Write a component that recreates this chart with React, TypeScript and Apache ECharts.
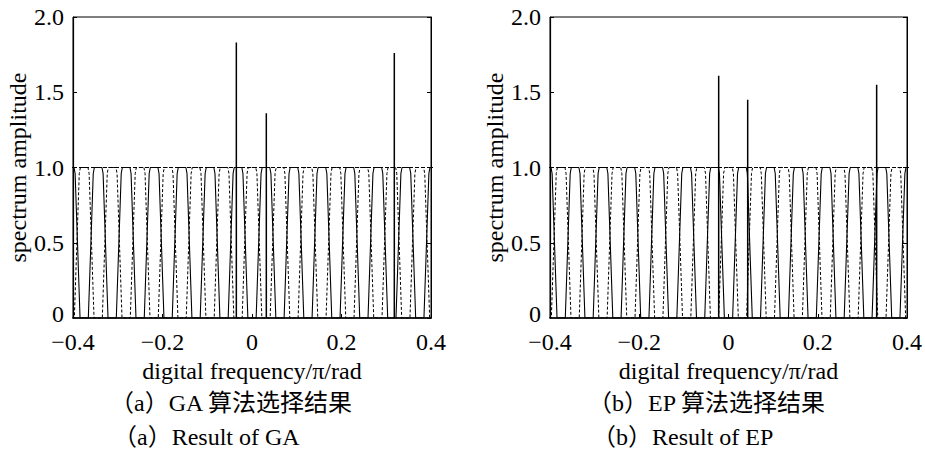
import React, { useEffect, useRef } from "react";
import * as echarts from "echarts";

// ---- data ----
const xTickStep = 0.2;
const yTickStep = 0.5;
const solidCenters = [-0.40625, -0.34375, -0.28125, -0.21875, -0.15625, -0.09375, -0.03125, 0.03125, 0.09375, 0.15625, 0.21875, 0.28125, 0.34375, 0.40625];
const dashedCenters = [-0.4375, -0.375, -0.3125, -0.25, -0.1875, -0.125, -0.0625, 0, 0.0625, 0.125, 0.1875, 0.25, 0.3125, 0.375, 0.4375];
const bandOffsets = [-0.022, -0.011, -0.0085, 0.0085, 0.011, 0.022];
const bandGains = [0, 0.96, 1, 1, 0.96, 0];
const gaSpikeFreq = [-0.035, 0.032, 0.318];
const gaSpikeAmp = [1.83, 1.36, 1.76];
const epSpikeFreq = [-0.022, 0.043, 0.332];
const epSpikeAmp = [1.61, 1.45, 1.55];
const panelCaptionsZh = ["（a）GA 算法选择结果", "（b）EP 算法选择结果"];
const panelCaptionsEn = ["（a）Result of GA", "（b）Result of EP"];
const xName = "digital frequency/π/rad";
const yName = "spectrum amplitude";
const yZeroLabel = "0";

const SERIF = '"Liberation Serif", "Noto Sans CJK SC", serif';
const FS = 24;

function comb(centers: number[]) {
  const pts: number[][] = [];
  centers.forEach((c) => {
    bandOffsets.forEach((o, i) => pts.push([c + o, bandGains[i]]));
  });
  return pts;
}

const fmtX = (v: number) => {
  if (Math.abs(v) < 1e-9) return "0";
  return (v < 0 ? "\u2212" : "") + Math.abs(v).toFixed(1);
};
const fmtY = (v: number) => (Math.abs(v) < 1e-9 ? "0" : v.toFixed(1));

export default function App() {
  const ref = useRef<HTMLDivElement>(null);
  useEffect(() => {
    if (!ref.current) return;
    const chart = echarts.init(ref.current, undefined, { renderer: "svg" });
    const grids = [
      { left: 73, top: 17, width: 358, height: 301 },
      { left: 550, top: 17, width: 358, height: 301 },
    ];
    const xAxes: any[] = [];
    const yAxes: any[] = [];
    const series: any[] = [];
    const spikes = [
      [gaSpikeFreq, gaSpikeAmp],
      [epSpikeFreq, epSpikeAmp],
    ];
    grids.forEach((g, gi) => {
      xAxes.push({
        type: "value",
        gridIndex: gi,
        min: -0.4,
        max: 0.4,
        interval: xTickStep,
        name: xName,
        nameLocation: "middle",
        nameGap: 40,
        nameTextStyle: { fontFamily: SERIF, fontSize: FS, color: "#000" },
        axisLine: { show: true, onZero: false, lineStyle: { color: "#000", width: 1.5 } },
        axisTick: { show: true, inside: true, length: 4, lineStyle: { color: "#000" } },
        axisLabel: { margin: 13, fontFamily: SERIF, fontSize: FS, lineHeight: 22, color: "#000", formatter: fmtX },
        splitLine: { show: false },
      });
      yAxes.push({
        type: "value",
        gridIndex: gi,
        min: 0,
        max: 2,
        interval: yTickStep,
        name: yName,
        nameLocation: "middle",
        nameGap: 39,
        nameTextStyle: { fontFamily: SERIF, fontSize: FS, color: "#000" },
        axisLine: { show: true, onZero: false, lineStyle: { color: "#000", width: 1.2 } },
        axisTick: { show: true, inside: true, length: 4, lineStyle: { color: "#000" } },
        axisLabel: { margin: 9, showMinLabel: false, fontFamily: SERIF, fontSize: FS, lineHeight: 20, color: "#000", formatter: fmtY },
        splitLine: { show: false },
      });
      yAxes.push({
        type: "value",
        gridIndex: gi,
        position: "right",
        min: 0,
        max: 2,
        interval: yTickStep,
        axisLine: { show: true, onZero: false, lineStyle: { color: "#000", width: 1 } },
        axisTick: { show: true, inside: true, length: 4, lineStyle: { color: "#000" } },
        axisLabel: { show: false },
        splitLine: { show: false },
      });
      const yi = gi * 2;
      series.push({
        type: "line",
        xAxisIndex: gi,
        yAxisIndex: yi,
        data: comb(solidCenters),
        symbol: "none",
        lineStyle: { color: "#000", width: 1.1 },
        silent: true,
      });
      series.push({
        type: "line",
        xAxisIndex: gi,
        yAxisIndex: yi,
        data: comb(dashedCenters),
        symbol: "none",
        lineStyle: { color: "#000", width: 1, type: [3, 2] },
        silent: true,
        markLine: {
          silent: true,
          symbol: ["none", "none"],
          label: { show: false },
          lineStyle: { color: "#000", width: 1, type: [4, 2] },
          data: [{ yAxis: 1 }],
        },
      });
      const [fs, as] = spikes[gi];
      fs.forEach((f, i) => {
        series.push({
          type: "line",
          xAxisIndex: gi,
          yAxisIndex: yi,
          data: [
            [f, 0],
            [f, as[i]],
          ],
          symbol: "none",
          lineStyle: { color: "#000", width: 1.5 },
          silent: true,
        });
      });
    });

    const captionX = [[110, 113], [588, 592]];
    const graphic: any[] = [];
    [0, 1].forEach((i) => {
      graphic.push({
        type: "text",
        left: captionX[i][0],
        top: 391,
        style: { text: panelCaptionsZh[i], fontFamily: SERIF, fontSize: FS, fill: "#000" },
      });
      graphic.push({
        type: "text",
        left: captionX[i][1],
        top: 425,
        style: { text: panelCaptionsEn[i], fontFamily: SERIF, fontSize: FS, fill: "#000" },
      });
    });

    chart.setOption({
      animation: false,
      backgroundColor: "#fff",
      grid: grids.map((g) => ({ ...g, show: true, borderColor: "#000", borderWidth: 1, backgroundColor: "transparent" })),
      xAxis: xAxes,
      yAxis: yAxes,
      series,
      graphic,
    });

    // y-axis "0" labels, nudged slightly up so they clear the x tick labels
    const zeroLabels: any[] = [];
    [0, 1].forEach((gi) => {
      const p = chart.convertToPixel({ xAxisIndex: gi, yAxisIndex: gi * 2 } as any, [-0.4, 0]) as number[];
      zeroLabels.push({
        type: "text",
        x: p[0] - 9,
        y: p[1] - 4,
        style: {
          text: yZeroLabel,
          fontFamily: SERIF,
          fontSize: FS,
          fill: "#000",
          align: "right",
          verticalAlign: "middle",
        },
      });
    });
    chart.setOption({ graphic: [...graphic, ...zeroLabels] });
    return () => chart.dispose();
  }, []);
  return (
    <div
      ref={ref}
      style={{ position: "fixed", left: 0, top: 0, width: 925, height: 453, background: "#fff" }}
    />
  );
}
